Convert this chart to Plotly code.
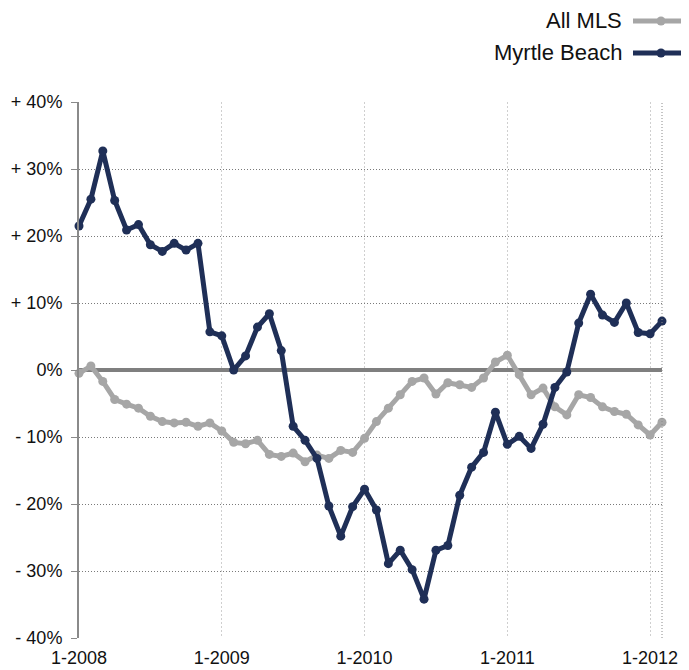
import plotly.graph_objects as go

months = list(range(50))  # Jan 2008 .. Feb 2012
tick_pos = [0, 12, 24, 36, 48]
tick_labels = ["1-2008", "1-2009", "1-2010", "1-2011", "1-2012"]
y_ticks = [40, 30, 20, 10, 0, -10, -20, -30, -40]
y_labels = ["+ 40%", "+ 30%", "+ 20%", "+ 10%", "0%", "- 10%", "- 20%", "- 30%", "- 40%"]

all_mls = [-0.5, 0.6, -1.7, -4.4, -5.1, -5.7, -6.9, -7.7, -7.9, -7.8,
           -8.4, -7.9, -9.1, -10.8, -11.0, -10.5, -12.6, -12.9, -12.4, -13.7,
           -12.7, -13.2, -12.0, -12.3, -10.2, -7.7, -5.7, -3.7, -1.7, -1.2,
           -3.6, -1.9, -2.2, -2.6, -1.2, 1.2, 2.2, -0.7, -3.7, -2.7,
           -5.5, -6.7, -3.7, -4.1, -5.5, -6.2, -6.6, -8.2, -9.7, -7.8]

myrtle = [21.5, 25.5, 32.7, 25.3, 20.9, 21.7, 18.7, 17.7, 18.9, 17.9,
          18.9, 5.7, 5.1, 0.0, 2.1, 6.4, 8.4, 2.9, -8.4, -10.5,
          -13.2, -20.3, -24.8, -20.4, -17.8, -20.9, -28.9, -26.9, -29.8, -34.2,
          -26.9, -26.2, -18.7, -14.5, -12.3, -6.3, -11.1, -9.9, -11.7, -8.1,
          -2.6, -0.3, 7.0, 11.3, 8.2, 7.1, 10.0, 5.6, 5.4, 7.3]

series_names = ["All MLS", "Myrtle Beach"]
GRAY = "#a6a6a6"
NAVY = "#1f2f57"
FONT = "Liberation Sans, Arial, sans-serif"

# page body has an 8px margin; figure coordinates are offset accordingly
W, H = 681, 662
L, R, T, B = 71, 27, 94, 32
PW, PH = W - L - R, H - T - B

fig = go.Figure()
for name, vals, col in [(series_names[0], all_mls, GRAY), (series_names[1], myrtle, NAVY)]:
    fig.add_trace(go.Scatter(
        x=months, y=vals, name=name, mode="lines+markers",
        line=dict(color=col, width=5),
        marker=dict(color=col, size=9),
        cliponaxis=False, showlegend=False,
    ))

fig.update_layout(
    width=W, height=H,
    margin=dict(l=L, r=R, t=T, b=B, autoexpand=False),
    plot_bgcolor="white", paper_bgcolor="white",
    font=dict(family=FONT, size=18, color="#111"),
)
fig.update_xaxes(
    range=[0, 49], tickvals=tick_pos, ticktext=tick_labels,
    showgrid=True, gridcolor="#cfcfcf", griddash="2px,2px", gridwidth=1,
    zeroline=False, showline=False, ticks="", ticklabelstandoff=7,
    tickfont=dict(size=18, family=FONT, color="#111"),
)
fig.update_yaxes(
    range=[-40, 40], tickvals=y_ticks, ticktext=y_labels,
    showgrid=True, gridcolor="#7a7a7a", griddash="1px,2px", gridwidth=1,
    zeroline=True, zerolinecolor="#7f7f7f", zerolinewidth=4,
    showline=True, linecolor="#8a8a8a", linewidth=2,
    ticks="outside", ticklen=6, tickcolor="#8a8a8a", tickwidth=1,
    ticklabelstandoff=5,
    tickfont=dict(size=18, family=FONT, color="#111"),
)
# right border (dotted)
fig.add_shape(type="line", xref="paper", yref="paper", x0=1, x1=1, y0=0, y1=1,
              line=dict(color="#8a8a8a", width=1, dash="1px,2px"))

# legend drawn manually (text left, symbol right)
legend_rows = [(series_names[0], GRAY, 21 - 8), (series_names[1], NAVY, 53 - 8)]
for name, col, ypx in legend_rows:
    yp = 1 + (T - ypx) / PH
    x0 = (633 - 8 - L) / PW
    x1 = (700 - 8 - L) / PW
    xm = (661 - 8 - L) / PW
    fig.add_shape(type="line", xref="paper", yref="paper", x0=x0, x1=x1, y0=yp, y1=yp,
                  line=dict(color=col, width=5))
    fig.add_shape(type="circle", xref="paper", yref="paper",
                  x0=xm - 4.5 / PW, x1=xm + 4.5 / PW, y0=yp - 4.5 / PH, y1=yp + 4.5 / PH,
                  fillcolor=col, line=dict(color=col, width=0))
    fig.add_annotation(text=name, xref="paper", yref="paper", x=(624 - 8 - L) / PW, y=yp,
                       xanchor="right", yanchor="middle", showarrow=False,
                       font=dict(size=22, family=FONT, color="#111"))

fig.write_html("out.html")
